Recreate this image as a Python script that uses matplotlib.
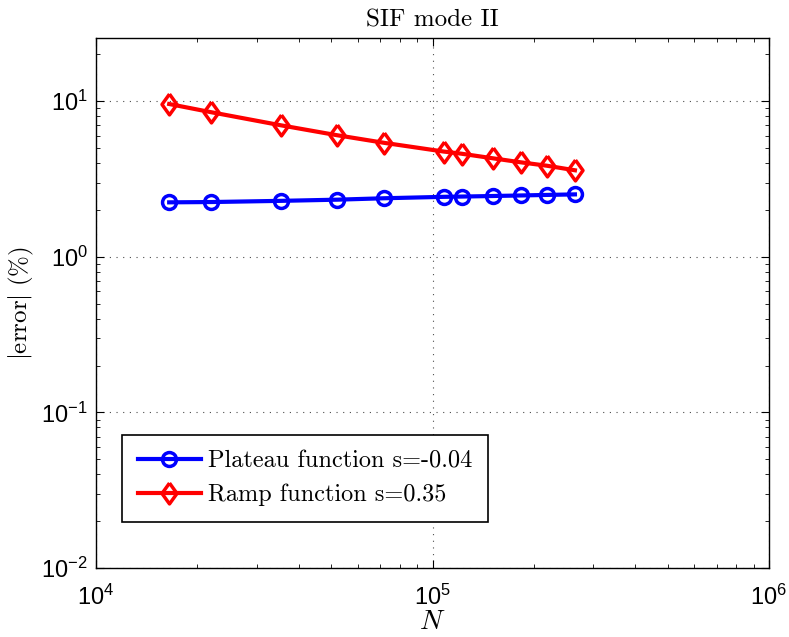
import matplotlib
matplotlib.use("Agg")
import matplotlib.pyplot as plt
from matplotlib.ticker import LogLocator, NullFormatter

N = [1.65e4, 2.2e4, 3.55e4, 5.2e4, 7.2e4, 1.08e5, 1.22e5, 1.51e5, 1.83e5, 2.19e5, 2.65e5]
plateau = [2.24, 2.25, 2.29, 2.33, 2.38, 2.43, 2.44, 2.46, 2.48, 2.50, 2.52]
ramp = [9.6, 8.5, 7.0, 6.05, 5.4, 4.75, 4.6, 4.3, 4.05, 3.85, 3.6]

plt.rcParams['mathtext.fontset'] = 'cm'
plt.rcParams['axes.formatter.use_mathtext'] = True
serif = 'cmr10'
tickfont = 'Liberation Sans'

# diamond a bit wider than matplotlib's thin 'd'
diamond = [(0, 1), (0.72, 0), (0, -1), (-0.72, 0), (0, 1)]

fig = plt.figure(figsize=(7.89, 6.37), dpi=100)
ax = fig.add_axes([96/789, 1 - 568/637, (769-96)/789, (568-38)/637])

ax.loglog(N, plateau, '-o', color='blue', lw=3, ms=10, mew=2.5, mfc='none',
          label='Plateau function s=-0.04')
ax.loglog(N, ramp, '-', marker=diamond, color='red', lw=3, ms=15, mew=2.5, mfc='none',
          label='Ramp function s=0.35')

ax.set_xlim(1e4, 1e6)
ax.set_ylim(1e-2, 25.5)
ax.xaxis.set_minor_locator(LogLocator(base=10, subs=range(2, 10)))
ax.yaxis.set_minor_locator(LogLocator(base=10, subs=range(2, 10)))
ax.xaxis.set_minor_formatter(NullFormatter())
ax.yaxis.set_minor_formatter(NullFormatter())
ax.tick_params(which='both', direction='in', top=True, right=True, labelsize=17)
ax.tick_params(axis='x', which='major', pad=12)
ax.tick_params(axis='y', which='major', pad=6)
ax.tick_params(which='major', length=6)
ax.tick_params(which='minor', length=3)
for lab in ax.get_xticklabels() + ax.get_yticklabels():
    lab.set_family(tickfont)
ax.grid(True, which='major', linestyle=(0, (1, 5)), color='0.3', lw=0.8)
for s in ax.spines.values():
    s.set_linewidth(1.0)

ax.set_title('SIF mode II', fontsize=18, family=serif, pad=8)
ax.set_xlabel('$N$', fontsize=20, labelpad=-2)
ax.set_ylabel(r'$|\mathrm{error}|\ (\%)$', fontsize=18, labelpad=4)

leg = ax.legend(loc='lower left', bbox_to_anchor=(26/673, 46/530), borderaxespad=0,
                prop={'family': serif, 'size': 17.5}, fancybox=False,
                edgecolor='black', framealpha=1, handlelength=2.6,
                handletextpad=0.3, borderpad=0.65, labelspacing=0.45)
leg.get_frame().set_linewidth(1.2)

fig.savefig('out.png', dpi=100)
